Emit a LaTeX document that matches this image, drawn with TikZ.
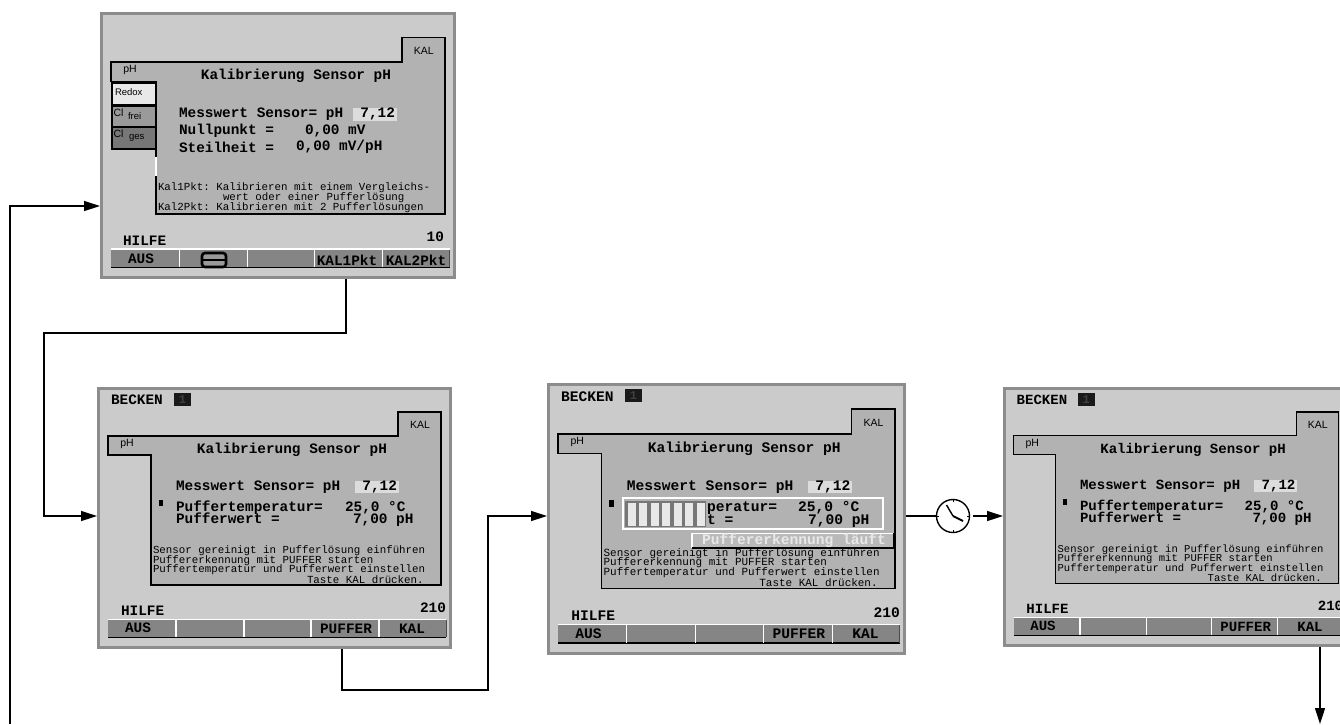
\documentclass[tikz,border=0pt]{standalone}
\usepackage{fontspec}
\setmainfont{Liberation Sans}
\setmonofont{Liberation Mono}
\usetikzlibrary{arrows.meta,calc}
\definecolor{scrbg}{HTML}{CBCBCB}
\definecolor{scrborder}{HTML}{8C8C8C}
\definecolor{panelc}{HTML}{B2B2B2}
\definecolor{keyc}{HTML}{858585}
\definecolor{valc}{HTML}{DCDCDC}
\definecolor{lightc}{HTML}{E8E8E8}
\definecolor{clf}{HTML}{9A9A9A}
\definecolor{clg}{HTML}{777777}
\definecolor{darkc}{HTML}{1A1A1A}
\def\fb{14.4}\def\fs{10.8}\def\pl{54}
\tikzset{
  screenbox/.style={draw=scrborder,fill=scrbg,line width=3pt,outer sep=1.5pt,inner sep=0pt,anchor=north west},
  bigt/.style={inner sep=0pt,outer sep=0pt,text=black,font=\fontsize{\fb}{\fb}\selectfont\ttfamily\bfseries},
  valt/.style={bigt,text height=8pt,text depth=2pt,yshift=-1.5pt},
  smallt/.style={inner sep=0pt,outer sep=0pt,text=black,font=\fontsize{\fs}{\fs}\selectfont\ttfamily},
  tabt/.style={inner sep=0pt,outer sep=0pt,text=black,font=\fontsize{10.5}{10.5}\selectfont},
  subt/.style={inner sep=0pt,outer sep=0pt,text=black,font=\fontsize{9.5}{9.5}\selectfont},
  panelline/.style={draw=black,line width=1.5pt,fill=panelc,line join=miter},
  conn/.style={draw=black,line width=1.4pt},
  connarrow/.style={conn,-{Triangle[length=16pt,width=10pt]}},
}
% common frame: base geometry 355 x 262
\newcommand{\scrframe}{%
  \draw[panelline] (11,49)--(301,49)--(301,25)--(344,25)--(344,198)--(\pl,198)--(\pl,68)--(11,68)--cycle;
  \fill[keyc] (11,233) rectangle (349,250);
  \draw[black,line width=1.2pt] (11,250.5)--(349,250.5);
  \draw[black!70,line width=1pt] (349,233)--(349,250);
  \draw[white,line width=1.2pt] (11,232.5)--(349,232.5);
  \foreach \xx in {79,147,214,282}{\draw[white,line width=1.2pt] (\xx,232.5)--(\xx,250);}
  \node[tabt] (kaltab) at (323,38) {KAL};
  \node[tabt] (phtab) at (30,57) {pH};
}
\newcommand{\scrcommon}{%
  \node[bigt,anchor=west] (becken) at (14,13) {BECKEN};
  \node[fill=darkc,minimum width=17pt,minimum height=13pt,inner sep=0pt,text=black!75,font=\fontsize{12}{12}\selectfont\ttfamily\bfseries] (bnr) at (85.5,12.5) {1};
  \node[bigt] (title) at (195,63) {Kalibrierung Sensor pH};
  \node[bigt,anchor=west] (mess) at (79,100) {Messwert Sensor= pH};
  \fill[valc] (258,94) rectangle (302,106);
  \node[bigt,anchor=east] (val) at (300,100) {7,12};
  \fill[black] (61.5,113) rectangle (66,119);
  \node[smallt,anchor=west] (l1) at (56,164) {Sensor gereinigt in Pufferlösung einführen};
  \node[smallt,anchor=west] (l2) at (56,173.5) {Puffererkennung mit PUFFER starten};
  \node[smallt,anchor=west] (l3) at (56,183) {Puffertemperatur und Pufferwert einstellen};
  \node[smallt,anchor=west] (l4) at (210,192.5) {Taste KAL drücken.};
  \node[bigt,anchor=west] (hilfe) at (24,224) {HILFE};
  \node[bigt,anchor=east] (code) at (349,221) {210};
  \node[bigt] (k1) at (41,241) {AUS};
  \node[bigt] (k4) at (249,241.5) {PUFFER};
  \node[bigt] (k5) at (315,241.5) {KAL};
}
\newcommand{\scrvalues}{%
  \node[valt,anchor=west] (pt) at (79,120) {Puffertemperatur=};
  \node[valt,anchor=west] (pw) at (79,132) {Pufferwert =};
  \node[valt,anchor=west] (ptv) at (248,120) {25,0 °C};
  \node[valt,anchor=west] (pwv) at (256,132) {7,00 pH};
}
\begin{document}
\begin{tikzpicture}[x=1pt,y=-1pt,line cap=butt]
\useasboundingbox (0,0) rectangle (1340,724);
\clip (0,0) rectangle (1340,724);
\fill[white] (0,0) rectangle (1340,724);

% ---------- screen nodes
\node[screenbox,minimum width=353pt,minimum height=264pt] (s1) at (100,12) {};
\node[screenbox,minimum width=352pt,minimum height=259pt] (s2) at (97,387) {};
\node[screenbox,minimum width=356pt,minimum height=269pt] (s3) at (547,383) {};
\node[screenbox,minimum width=343pt,minimum height=257pt] (s4) at (1003,387) {};

% ---------- screen 1
\begin{scope}
\def\pl{56}
\begin{scope}[shift={(100,12)},xscale=356/355,yscale=267/262,name prefix=a-]
  \scrframe
\end{scope}
\end{scope}
\begin{scope}[name prefix=s1-]
  \draw[white,line width=1.2pt] (156,157)--(156,176);
  \draw[black,line width=1.5pt,fill=lightc] (112,83) rectangle (156,104.5);
  \draw[black,line width=1.5pt,fill=clf] (112,106) rectangle (156,127);
  \draw[black,line width=1.5pt,fill=clg] (112,127.5) rectangle (156,149);
  \node[subt,anchor=west] (redox) at (115,92.5) {Redox};
  \node[tabt,anchor=west] (cl1) at (113.5,112.5) {Cl};
  \node[subt,anchor=west] (frei) at (128,116) {frei};
  \node[tabt,anchor=west] (cl2) at (113.5,134) {Cl};
  \node[subt,anchor=west] (ges) at (129,138) {ges};
  \node[bigt] (title) at (296,76) {Kalibrierung Sensor pH};
  \node[bigt,anchor=west] (mess) at (179,114) {Messwert Sensor= pH};
  \fill[valc] (353,108) rectangle (397,121);
  \node[bigt,anchor=east] (val) at (395,114) {7,12};
  \node[bigt,anchor=west] (nullp) at (179,131) {Nullpunkt =};
  \node[bigt,anchor=west] (nullv) at (305,131) {0,00 mV};
  \node[bigt,anchor=west] (steil) at (179,147) {Steilheit =};
  \node[bigt,anchor=west] (steilv) at (296,147) {0,00 mV/pH};
  \node[smallt,anchor=west] (h1) at (158,188) {Kal1Pkt: Kalibrieren mit einem Vergleichs-};
  \node[smallt,anchor=west] (h2) at (223,198) {wert oder einer Pufferlösung};
  \node[smallt,anchor=west] (h3) at (158,208) {Kal2Pkt: Kalibrieren mit 2 Pufferlösungen};
  \node[bigt,anchor=west] (hilfe) at (123,241) {HILFE};
  \node[bigt,anchor=east] (code) at (444,237) {10};
  \node[bigt] (k1) at (141,259) {AUS};
  \node[bigt] (k4) at (347,260) {KAL1Pkt};
  \node[bigt] (k5) at (416,260) {KAL2Pkt};
  \draw[black,line width=2.6pt,rounded corners=3pt,fill=clf] (202,253) rectangle (226,267);
  \draw[black,line width=2pt] (202,260)--(226,260);
\end{scope}

% ---------- screen 2
\begin{scope}[shift={(97,387)},name prefix=s2-]
  \scrframe\scrcommon\scrvalues
\end{scope}

% ---------- screen 3
\begin{scope}
\def\fb{14.6}\def\fs{10.95}
\begin{scope}[shift={(547,383)},xscale=359/355,yscale=272/262,name prefix=s3-]
  \scrframe\scrcommon
\end{scope}
\begin{scope}[name prefix=s3x-]
  \draw[white,line width=1.6pt,fill=panelc] (623,498) rectangle (883,529);
  \fill[clg] (625,501) rectangle (706,527);
  \foreach \cx in {627.5,639,650.5,662,673.5,685,696.5}{\fill[lightc] (\cx,502.5) rectangle ++(8,23);}
  \node[valt,anchor=west] (pt) at (707,507) {peratur=};
  \node[valt,anchor=west] (pw) at (707,520) {t =};
  \node[valt,anchor=west] (ptv) at (798,507) {25,0 °C};
  \node[valt,anchor=west] (pwv) at (808,520) {7,00 pH};
  \fill[panelc!90!white] (692,533) rectangle (894,548);
  \draw[white,line width=1.4pt] (692,548)--(692,533.5)--(894,533.5);
  \draw[black,line width=1.4pt] (692,548)--(894,548)--(894,533);
  \node[bigt,text=lightc,anchor=west] (busy) at (702,541) {Puffererkennung läuft};
\end{scope}
\end{scope}

% ---------- screen 4
\begin{scope}
\def\fb{14.05}\def\fs{10.55}
\begin{scope}[shift={(1003,387)},xscale=346/355,yscale=260/262,name prefix=s4-]
  \scrframe\scrcommon\scrvalues
\end{scope}
\end{scope}

% ---------- clock
\node[circle,draw=black,line width=1.4pt,minimum size=33pt,inner sep=0pt,outer sep=0.7pt] (clk) at (953,516) {};
\foreach \ang in {0,90,180,270}{\draw[black,line width=1pt] (clk.\ang) -- ($(clk.center)!0.8!(clk.\ang)$);}
\draw[black,line width=1.4pt] (clk.center) -- ++(-6.5,-11);
\draw[black,line width=1.8pt] (clk.center) -- ++(10,5);

% ---------- connectors
\coordinate (fb) at (10,724);
\coordinate (fbc) at (10,206);
\draw[connarrow] (fb) -- (fbc) -- (s1.west |- fbc);
\coordinate (a1) at (346,333);
\coordinate (a2) at (44,333);
\coordinate (a3) at (44,516);
\draw[connarrow] (s1.south -| a1) -- (a1) -- (a2) -- (a3) -- (s2.west |- a3);
\coordinate (b1) at (342,690);
\coordinate (b2) at (488,690);
\coordinate (b3) at (488,516);
\draw[connarrow] (s2.south -| b1) -- (b1) -- (b2) -- (b3) -- (s3.west |- b3);
\draw[conn] (s3.east |- clk) -- (clk.west);
\coordinate (clkout) at ($(clk.east)+(3,0)$);
\draw[connarrow] (clkout) -- (s4.west |- clk);
\coordinate (d1) at (1320,724);
\draw[connarrow] (s4.south -| d1) -- (d1);
\end{tikzpicture}
\end{document}
